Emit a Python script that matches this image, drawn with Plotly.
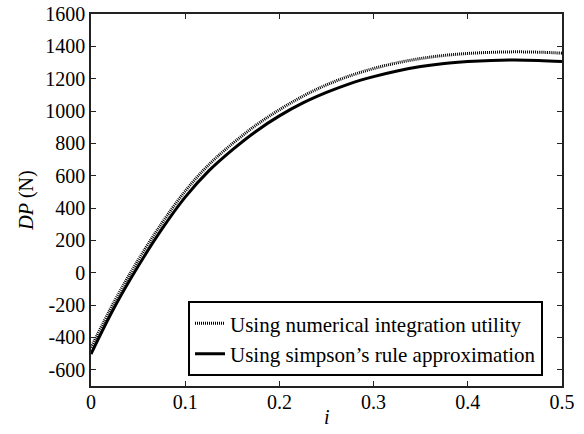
import plotly.graph_objects as go

i_vals = [0, 0.025, 0.05, 0.075, 0.1, 0.125, 0.15, 0.175, 0.2, 0.225, 0.25,
          0.275, 0.3, 0.325, 0.35, 0.375, 0.4, 0.425, 0.45, 0.475, 0.5]
dp_numerical = [-462, -175, 78, 305, 505, 668, 798, 912, 1008, 1092, 1162,
                1218, 1263, 1298, 1325, 1344, 1356, 1363, 1366, 1364, 1358]
dp_simpson = [-502, -212, 40, 268, 468, 630, 760, 874, 970, 1050, 1115,
              1170, 1213, 1248, 1275, 1294, 1306, 1313, 1315, 1312, 1306]

y_ticks = [-600, -400, -200, 0, 200, 400, 600, 800, 1000, 1200, 1400, 1600]
y_tick_labels = ["-600", "-400", "-200", "0", "200", "400", "600", "800",
                 "1000", "1200", "1400", "1600"]
x_ticks = [0, 0.1, 0.2, 0.3, 0.4, 0.5]
x_tick_labels = ["0", "0.1", "0.2", "0.3", "0.4", "0.5"]

font_family = "Liberation Serif"
tick_font = dict(family=font_family, size=20, color="black")

fig = go.Figure()
fig.add_trace(go.Scatter(
    x=i_vals, y=dp_numerical, mode="lines", line_shape="spline",
    name="Using numerical integration utility",
    line=dict(color="black", width=3, dash="1px,1px"),
))
fig.add_trace(go.Scatter(
    x=i_vals, y=dp_simpson, mode="lines", line_shape="spline",
    name="Using simpson\u2019s rule approximation",
    line=dict(color="black", width=3),
))

fig.update_layout(
    width=584, height=434,
    margin=dict(l=91, r=22, t=14, b=48),
    paper_bgcolor="white", plot_bgcolor="white",
    font=dict(family=font_family, size=20, color="black"),
    showlegend=True,
    legend=dict(
        x=0.206, y=0.228, xanchor="left", yanchor="top",
        bgcolor="white", bordercolor="black", borderwidth=2,
        font=dict(family=font_family, size=21, color="black"),
        itemwidth=30, tracegroupgap=0,
    ),
    xaxis=dict(
        range=[0, 0.5], tickvals=x_ticks, ticktext=x_tick_labels,
        tickfont=tick_font, ticklabelstandoff=-3,
        showgrid=False, zeroline=False, automargin=False,
        showline=True, linecolor="#222", linewidth=1.5, mirror="ticks",
        ticks="inside", ticklen=5, tickcolor="#222",
    ),
    yaxis=dict(
        range=[-700, 1600], tickvals=y_ticks, ticktext=y_tick_labels,
        tickfont=tick_font,
        showgrid=False, zeroline=False, automargin=False,
        showline=True, linecolor="#222", linewidth=1.5, mirror="ticks",
        ticks="inside", ticklen=5, tickcolor="#222",
        title=dict(text="<i>DP</i> (N)", font=dict(size=20), standoff=6),
    ),
    annotations=[dict(
        text="<i>i</i>", xref="paper", yref="paper", x=0.5, y=0,
        xanchor="center", yanchor="middle", yshift=-31, showarrow=False,
        font=dict(family=font_family, size=20, color="black"),
    )],
)

fig.write_html("out.html")
